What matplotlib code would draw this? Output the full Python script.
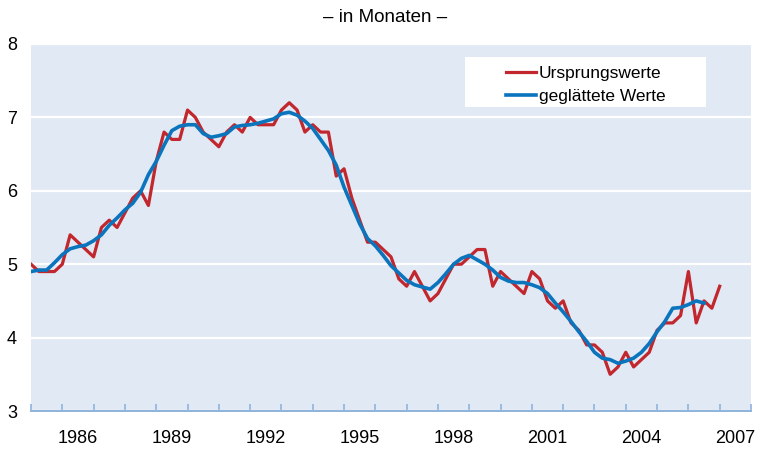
import numpy as np
import matplotlib.pyplot as plt
from matplotlib.patches import Rectangle

plt.rcParams['font.family'] = ['Liberation Sans', 'DejaVu Sans']

# quarterly values, first quarter 1985
start_year = 1985
raw = [5.0, 4.9, 4.9, 4.9, 5.0, 5.4, 5.3, 5.2, 5.1, 5.5, 5.6, 5.5, 5.7, 5.9, 6.0, 5.8,
       6.4, 6.8, 6.7, 6.7, 7.1, 7.0, 6.8, 6.7, 6.6, 6.8, 6.9, 6.8, 7.0, 6.9, 6.9, 6.9,
       7.1, 7.2, 7.1, 6.8, 6.9, 6.8, 6.8, 6.2, 6.3, 5.9, 5.6, 5.3, 5.3, 5.2, 5.1, 4.8,
       4.7, 4.9, 4.7, 4.5, 4.6, 4.8, 5.0, 5.0, 5.1, 5.2, 5.2, 4.7, 4.9, 4.8, 4.7, 4.6,
       4.9, 4.8, 4.5, 4.4, 4.5, 4.2, 4.1, 3.9, 3.9, 3.8, 3.5, 3.6, 3.8, 3.6, 3.7, 3.8,
       4.1, 4.2, 4.2, 4.3, 4.9, 4.2, 4.5, 4.4, 4.7]
smooth = [4.90, 4.92, 4.92, 5.02, 5.13, 5.21, 5.24, 5.26, 5.32, 5.40, 5.53, 5.63, 5.74, 5.83,
          5.98, 6.22, 6.40, 6.62, 6.82, 6.88, 6.90, 6.90, 6.78, 6.73, 6.75, 6.78, 6.87, 6.89,
          6.90, 6.92, 6.95, 6.98, 7.05, 7.07, 7.03, 6.95, 6.85, 6.70, 6.55, 6.35, 6.05, 5.80,
          5.55, 5.35, 5.25, 5.12, 4.98, 4.88, 4.78, 4.72, 4.69, 4.66, 4.75, 4.87, 5.00, 5.08,
          5.12, 5.06, 5.00, 4.92, 4.82, 4.77, 4.75, 4.75, 4.72, 4.68, 4.60, 4.47, 4.35, 4.22,
          4.08, 3.95, 3.80, 3.72, 3.70, 3.65, 3.68, 3.72, 3.80, 3.92, 4.08, 4.22, 4.40, 4.41,
          4.45, 4.50, 4.47]
year_labels = ['1986', '1989', '1992', '1995', '1998', '2001', '2004', '2007']

x_raw = start_year + np.arange(len(raw)) / 4
x_smooth = start_year + np.arange(len(smooth)) / 4

fig = plt.figure(figsize=(7.58, 4.49), dpi=100)
ax = fig.add_axes([31 / 758, 1 - 411 / 449, 720 / 758, 367 / 449])
ax.set_facecolor('#e1e9f4')

ax.plot(x_raw, raw, color='#c1272d', linewidth=2.3, label='Ursprungswerte', zorder=3)
ax.plot(x_smooth, smooth, color='#0a74bd', linewidth=2.6, label='geglättete Werte', zorder=4)

ax.set_xlim(1985, 2008)
ax.set_ylim(3, 8)
ax.set_yticks([3, 4, 5, 6, 7, 8])
ax.grid(axis='y', color='white', linewidth=1.6, zorder=1)
ax.set_axisbelow(True)

ax.set_xticks([int(y) + 0.5 for y in year_labels])
ax.set_xticklabels(year_labels)
ax.set_xticks(np.arange(1985, 2009), minor=True)
ax.tick_params(axis='x', which='major', length=0, pad=14, labelsize=13)
ax.tick_params(axis='x', which='minor', length=5, direction='in', color='#8db3dd', width=1.2)
ax.tick_params(axis='y', length=0, pad=10, labelsize=13)

for s in ['top', 'left', 'right']:
    ax.spines[s].set_visible(False)
ax.spines['bottom'].set_color('#8db3dd')
ax.spines['bottom'].set_linewidth(1.4)

ax.add_patch(Rectangle((434 / 720, 304 / 367), 241 / 720, 50 / 367, transform=ax.transAxes,
                       facecolor='white', edgecolor='none', zorder=5))
leg = ax.legend(loc='center left', bbox_to_anchor=(475 / 720, 326 / 367), frameon=False,
                fontsize=12.5, handlelength=1.75, handletextpad=0.15, borderpad=0,
                labelspacing=0.45, borderaxespad=0)
leg.set_zorder(6)

fig.text(385 / 758, 1 - 17 / 449, '– in Monaten –', ha='center', va='center', fontsize=13.5)

plt.savefig('out.png', dpi=100)
